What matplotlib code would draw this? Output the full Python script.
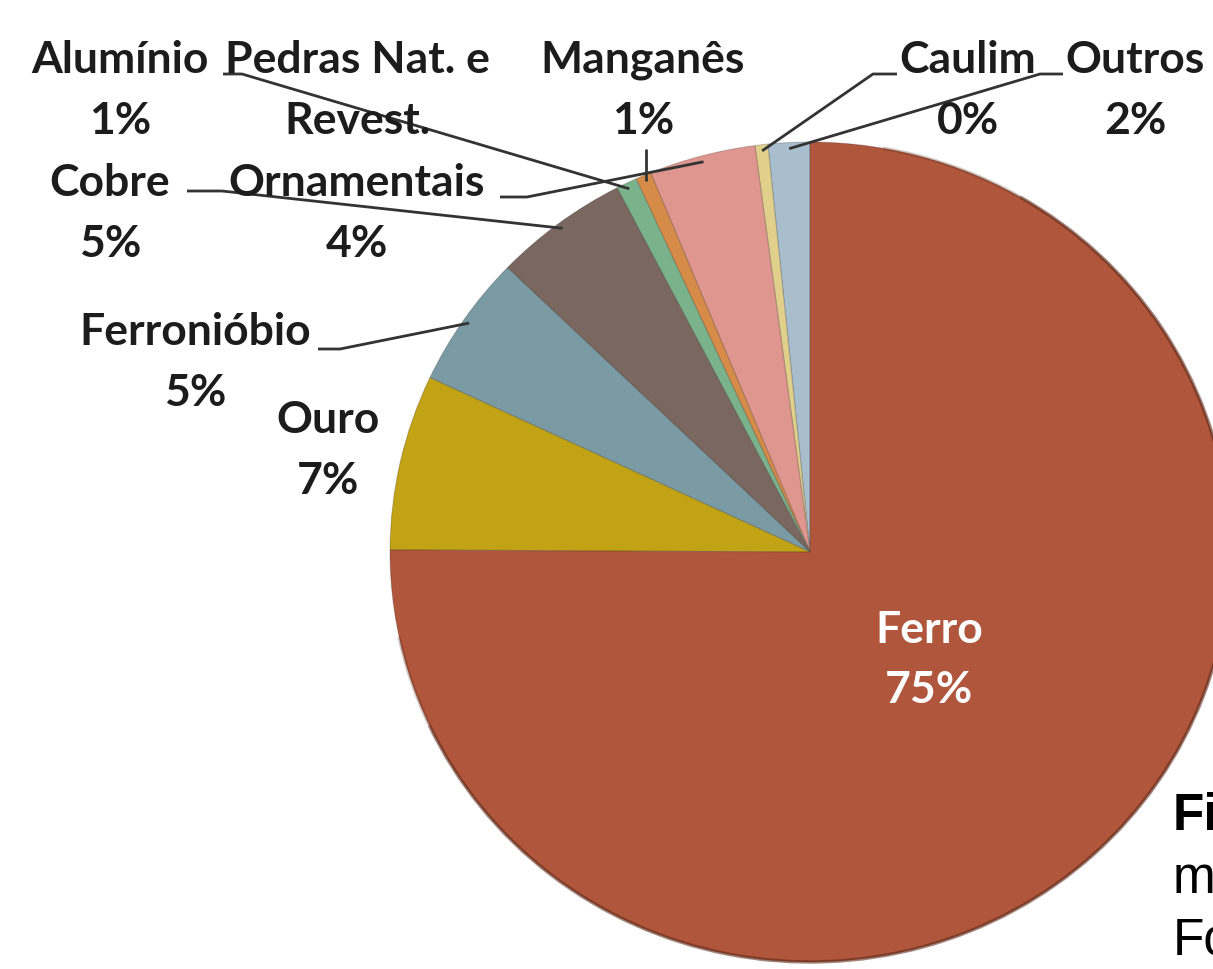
import numpy as np
import matplotlib
matplotlib.use("Agg")
import matplotlib.pyplot as plt
from matplotlib.patches import Arc

plt.rcParams["font.family"] = ["Lato", "DejaVu Sans"]

# Production share by substance, counter-clockwise from 12 o'clock
names = ["Outros", "Caulim", "Pedras Nat. e\nRevest.\nOrnamentais", "Manganês",
         "Alumínio", "Cobre", "Ferronióbio", "Ouro", "Ferro"]
values = [1.6, 0.49, 4.1, 0.6, 0.8, 5.2, 5.2, 6.9, 75.0]
colors = ["#A8BECD", "#E1D08C", "#DE968E", "#D68C48", "#7AB28C",
          "#7A6860", "#7A9BA3", "#C2A316", "#B0563C"]

# label layout in pixels: centre x, first baseline y
label_pos = {
    "Outros": (1135, 73), "Caulim": (968, 73), "Manganês": (643, 73),
    "Alumínio": (120, 73), "Cobre": (110, 196), "Ferronióbio": (195, 345),
    "Ouro": (328, 433), "Ferro": (929, 643),
    "Pedras Nat. e\nRevest.\nOrnamentais": (357, 73),
}
# leader line stubs (label end -> knee), the far end sits on the wedge
leaders = {
    "Alumínio": [(223, 75), (242, 75)],
    "Pedras Nat. e\nRevest.\nOrnamentais": [(500, 198), (527, 198)],
    "Cobre": [(187, 192), (222, 192)],
    "Ferronióbio": [(318, 350), (340, 350)],
    "Caulim": [(897, 75), (873, 75)],
    "Outros": [(1063, 75), (1040, 75)],
}

W, H = 1213, 970
CX, CY, RX, RY = 810, 553, 420, 410
STEP = 61.5

fig = plt.figure(figsize=(W / 100, H / 100), dpi=100)
fig.patch.set_facecolor("white")

pie_ax = fig.add_axes([(CX - RX) / W, (H - CY - RY) / H, 2 * RX / W, 2 * RY / H])
wedges, _ = pie_ax.pie(values, colors=colors, startangle=90, counterclock=True,
                       wedgeprops=dict(linewidth=0.8, edgecolor=(0, 0, 0, 0.18)))
for w in wedges:
    w.set_clip_on(False)
pie_ax.set_aspect("auto")
pie_ax.set_xlim(-1, 1)
pie_ax.set_ylim(-1, 1)
pie_ax.axis("off")

# darker rim along the lower edge, fading in at both ends
for t1, t2, a in [(192, 205, 0.25), (205, 420, 0.55), (420, 440, 0.25)]:
    pie_ax.add_patch(Arc((0, 0), 2, 2, theta1=t1, theta2=t2, color="#5a2412",
                         lw=2.5, alpha=a, clip_on=False))

ov = fig.add_axes([0, 0, 1, 1])
ov.set_xlim(0, W)
ov.set_ylim(H, 0)
ov.axis("off")


def edge_pt(theta, k=0.985):
    t = np.deg2rad(theta)
    return CX + RX * k * np.cos(t), CY - RY * k * np.sin(t)


for name, val, w in zip(names, values, wedges):
    x, y = label_pos[name]
    lines = name.split("\n") + [f"{val:.0f}%"]
    col = "white" if name == "Ferro" else "#1c1c1c"
    step = 60 if name == "Ferro" else STEP
    for i, line in enumerate(lines):
        ov.text(x, y + i * step, line, ha="center", va="baseline",
                fontsize=32, fontweight="bold", color=col)

    mid = (w.theta1 + w.theta2) / 2
    ex, ey = edge_pt(mid)
    if name in leaders:
        pts = leaders[name] + [(ex, ey)]
    elif name == "Manganês":
        pts = [(ex, 150), (ex, ey)]
    else:
        continue
    xs, ys = zip(*pts)
    ov.plot(xs, ys, color="#333333", lw=2, solid_capstyle="butt")

# caption running in from the right margin
ov.text(1173, 830, "Fi", fontsize=37, fontweight="bold",
        family="Liberation Sans", color="black", va="baseline")
ov.text(1173, 893, "m", fontsize=37, family="Liberation Sans",
        color="black", va="baseline")
ov.text(1173, 955, "Fo", fontsize=37, family="Liberation Sans",
        color="black", va="baseline")

fig.savefig("out.png", dpi=100, facecolor="white")
plt.close(fig)
